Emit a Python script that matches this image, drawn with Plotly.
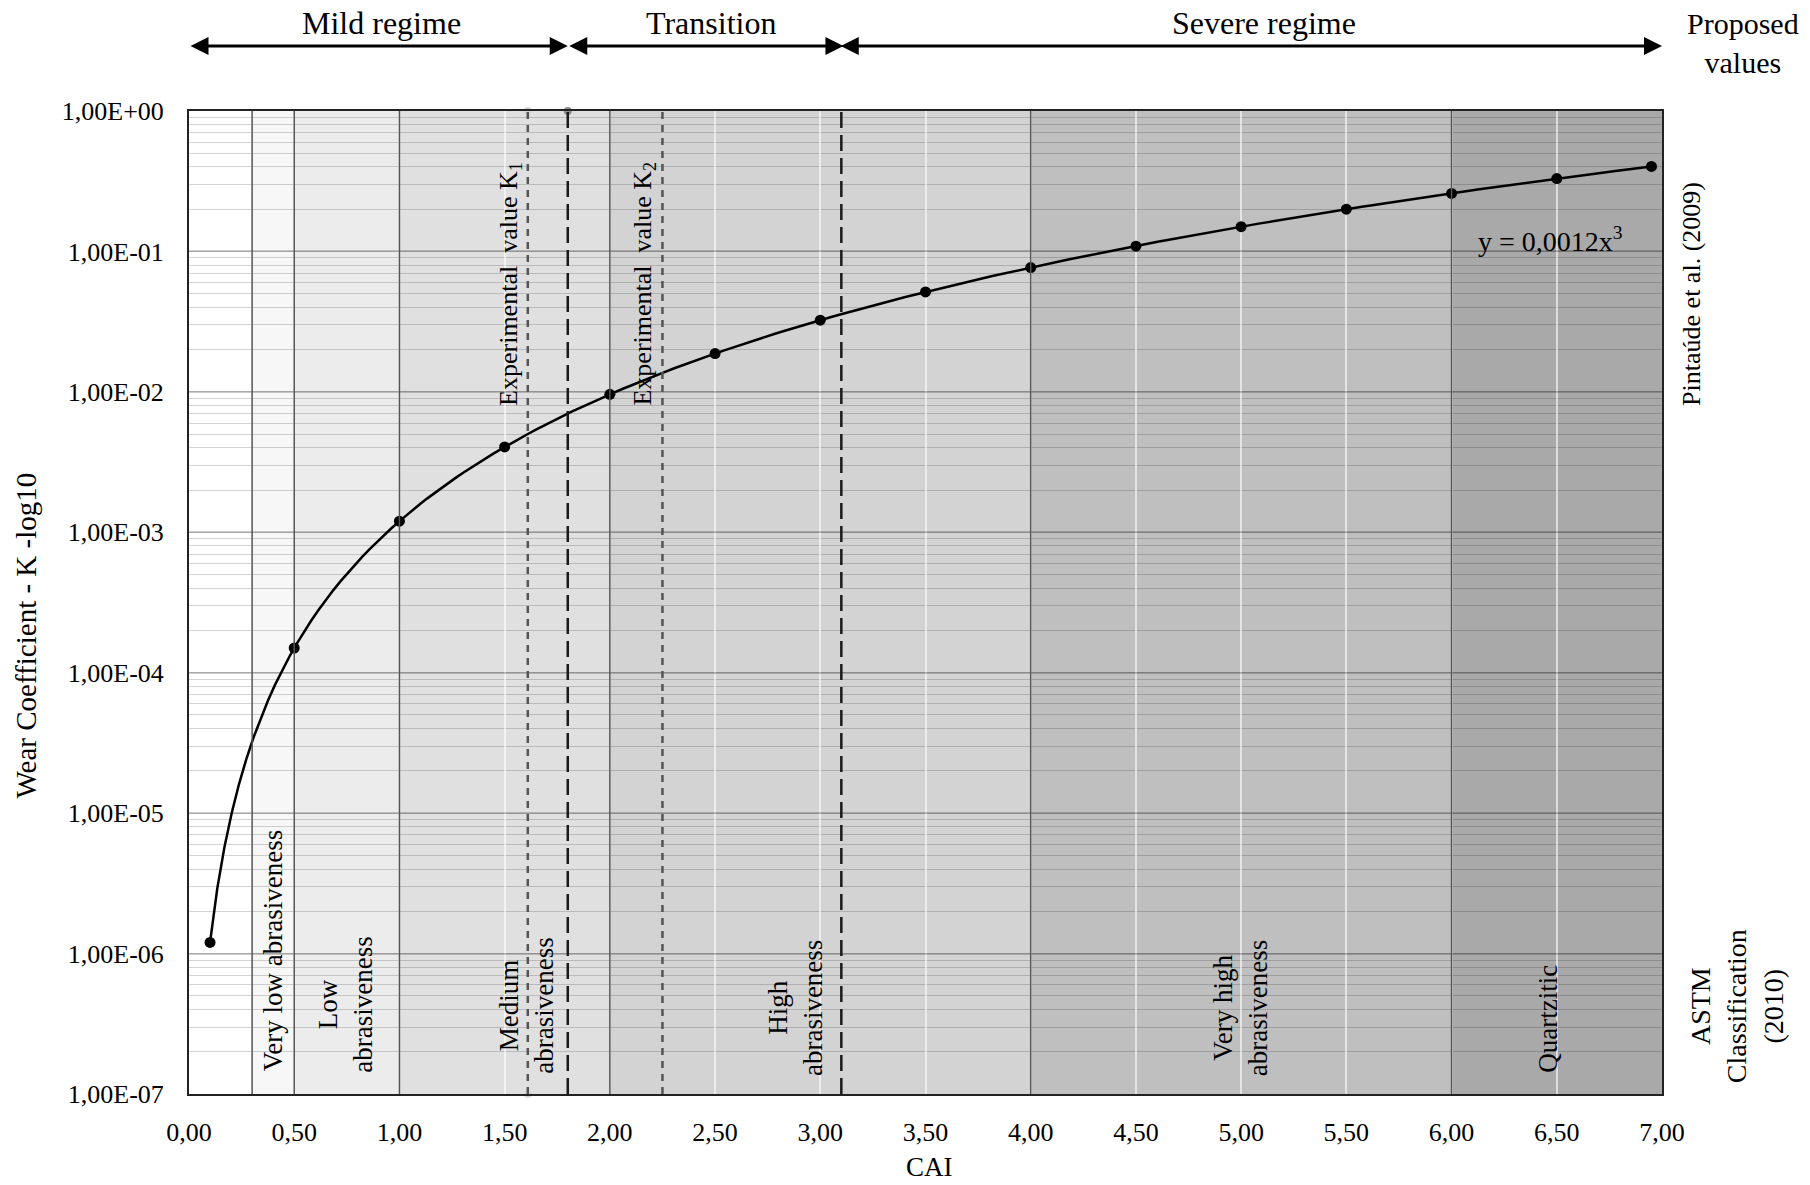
import plotly.graph_objects as go

# ---------------- data ----------------
CAI = [0.1, 0.5, 1.0, 1.5, 2.0, 2.5, 3.0, 3.5, 4.0, 4.5, 5.0, 5.5, 6.0, 6.5, 6.95]
K = [1.2e-6, 1.5e-4, 1.2e-3, 4.05e-3, 9.6e-3, 1.875e-2, 3.24e-2, 5.15e-2,
     7.68e-2, 0.109, 0.150, 0.200, 0.259, 0.330, 0.403]
TREND_COEF = 0.0012          # y = 0,0012 x^3 (shown on chart)
TREND_EXP = 3

X_TICKS = [0, 0.5, 1.0, 1.5, 2.0, 2.5, 3.0, 3.5, 4.0, 4.5, 5.0, 5.5, 6.0, 6.5, 7.0]
X_TICK_TEXT = ["0,00", "0,50", "1,00", "1,50", "2,00", "2,50", "3,00", "3,50",
               "4,00", "4,50", "5,00", "5,50", "6,00", "6,50", "7,00"]
Y_TICKS = [1e-7, 1e-6, 1e-5, 1e-4, 1e-3, 1e-2, 1e-1, 1e0]
Y_TICK_TEXT = ["1,00E-07", "1,00E-06", "1,00E-05", "1,00E-04",
               "1,00E-03", "1,00E-02", "1,00E-01", "1,00E+00"]

# ASTM classification bands
BAND_EDGES = [0.0, 0.3, 0.5, 1.0, 2.0, 4.0, 6.0, 7.0]
BAND_COLORS = ["#ffffff", "#f7f7f7", "#ececec", "#e0e0e0", "#d3d3d3", "#bfbfbf", "#a9a9a9"]
DIVIDERS = [0.3, 0.5, 1.0, 2.0, 4.0, 6.0]

ZONE_LABELS = ["Very low abrasiveness", "Low<br>abrasiveness", "Medium<br>abrasiveness",
               "High<br>abrasiveness", "Very high<br>abrasiveness", "Quartzitic"]
ZONE_LABEL_X = [0.40, 0.74, 1.60, 2.885, 5.0, 6.46]
ZONE_LABEL_Y = [0.1455, 0.0905, 0.0895, 0.0875, 0.0875, 0.077]

# Experimental values (short dash) and regime limits (long dash)
EXP_X = [1.61, 2.25]
EXP_LABELS = ["Experimental  value K<sub>1</sub>", "Experimental  value K<sub>2</sub>"]
EXP_LABEL_X = [1.525, 2.16]
REGIME_LIMITS = [1.8, 3.1]

REGIMES = ["Mild regime", "Transition", "Severe regime"]
REGIME_LABEL_X = [0.9125, 2.48, 5.11]
REGIME_START = [0.0, 1.80, 3.09]
REGIME_END = [1.80, 3.11, 7.0]

MARK_X = [1.61, 1.61, 1.8]
MARK_Y = [1.0, 1e-7, 1.0]
MARK_COLORS = ["#d9d9d9", "#d9d9d9", "#8c8c8c"]

FONT = "Liberation Serif"

# trend line evaluated from the displayed fit y = 0,0012 x^3
n = 200
trend_x = [CAI[0] + (CAI[-1] - CAI[0]) * i / (n - 1) for i in range(n)]
trend_y = [TREND_COEF * x ** TREND_EXP for x in trend_x]

fig = go.Figure()

fig.add_trace(go.Scatter(x=trend_x, y=trend_y, mode="lines",
                         line=dict(color="black", width=2.5), hoverinfo="skip",
                         showlegend=False))
fig.add_trace(go.Scatter(x=CAI, y=K, mode="markers",
                         marker=dict(color="black", size=11), showlegend=False))
fig.add_trace(go.Scatter(x=MARK_X, y=MARK_Y, mode="markers", cliponaxis=False,
                         marker=dict(color=MARK_COLORS, size=8), showlegend=False))

shapes = []
for i, c in enumerate(BAND_COLORS):
    shapes.append(dict(type="rect", xref="x", yref="paper", x0=BAND_EDGES[i], x1=BAND_EDGES[i + 1],
                       y0=0, y1=1, fillcolor=c, line=dict(width=0), layer="below"))
for xv in DIVIDERS:
    shapes.append(dict(type="line", xref="x", yref="paper", x0=xv, x1=xv, y0=0, y1=1,
                       line=dict(color="#555555", width=1.5), layer="above"))
for xv in EXP_X:
    shapes.append(dict(type="line", xref="x", yref="paper", x0=xv, x1=xv, y0=0, y1=1,
                       line=dict(color="#555555", width=2.5, dash="7px,6px"), layer="above"))
for xv in REGIME_LIMITS:
    shapes.append(dict(type="line", xref="x", yref="paper", x0=xv, x1=xv, y0=0, y1=1,
                       line=dict(color="#1a1a1a", width=2.5, dash="16px,7px"), layer="above"))

ann = []
for t, xv, yv in zip(ZONE_LABELS, ZONE_LABEL_X, ZONE_LABEL_Y):
    ann.append(dict(text=t, x=xv, y=yv, xref="x", yref="paper", textangle=-90,
                    showarrow=False, xanchor="center", yanchor="middle",
                    font=dict(family=FONT, size=27, color="black")))
for t, xv in zip(EXP_LABELS, EXP_LABEL_X):
    ann.append(dict(text=t, x=xv, y=0.824, xref="x", yref="paper", textangle=-90,
                    showarrow=False, xanchor="center", yanchor="middle",
                    font=dict(family=FONT, size=26, color="black")))
for t, xv in zip(REGIMES, REGIME_LABEL_X):
    ann.append(dict(text=t, x=xv, y=1.0895, xref="x", yref="paper", showarrow=False,
                    xanchor="center", yanchor="middle",
                    font=dict(family=FONT, size=32, color="black")))
for xs, xe in zip(REGIME_START, REGIME_END):
    ann.append(dict(text="", x=xe, y=1.066, xref="x", yref="paper",
                    ax=xs, ay=0, axref="x", ayref="pixel",
                    showarrow=True, arrowside="end+start", arrowhead=2, startarrowhead=2,
                    arrowsize=1.2, startarrowsize=1.2, arrowwidth=3, arrowcolor="black"))

ann.append(dict(text="Proposed<br>values", x=1.055, y=1.069, xref="paper", yref="paper",
                showarrow=False, xanchor="center", yanchor="middle",
                font=dict(family=FONT, size=30, color="black")))
ann.append(dict(text="y = 0,0012x<sup>3</sup>", x=6.47, y=0.869, xref="x", yref="paper",
                showarrow=False, xanchor="center", yanchor="middle",
                font=dict(family=FONT, size=28, color="black")))
ann.append(dict(text="Pintaúde et al. (2009)", x=1.0204, y=0.814, xref="paper", yref="paper",
                textangle=-90, showarrow=False, xanchor="center", yanchor="middle",
                font=dict(family=FONT, size=26, color="black")))
ann.append(dict(text="ASTM<br>Classification<br>(2010)", x=1.051, y=0.0895, xref="paper",
                yref="paper", textangle=-90, showarrow=False, xanchor="center", yanchor="middle",
                font=dict(family=FONT, size=28, color="black")))
ann.append(dict(text="CAI", x=3.52, y=-0.0745, xref="x", yref="paper", showarrow=False,
                xanchor="center", yanchor="middle", font=dict(family=FONT, size=27, color="black")))
ann.append(dict(text="Wear Coefficient - K -log10", x=-0.111, y=0.467, xref="paper", yref="paper",
                textangle=-90, showarrow=False, xanchor="center", yanchor="middle",
                font=dict(family=FONT, size=29, color="black")))

fig.update_layout(
    width=1810, height=1185,
    margin=dict(l=189, r=148, t=111, b=91),
    paper_bgcolor="white", plot_bgcolor="white",
    shapes=shapes, annotations=ann,
    font=dict(family=FONT, size=26, color="black"),
    showlegend=False,
)
fig.update_xaxes(range=[0, 7], tickmode="array", tickvals=X_TICKS, ticktext=X_TICK_TEXT,
                 showgrid=True, gridcolor="rgba(255,255,255,0.6)", gridwidth=1.5,
                 showline=True, mirror=True, linecolor="#222222", linewidth=2,
                 zeroline=False, ticks="", ticklabelstandoff=14,
                 tickfont=dict(family=FONT, size=26, color="black"))
fig.update_yaxes(type="log", range=[-7, 0], tickmode="array", tickvals=Y_TICKS,
                 ticktext=Y_TICK_TEXT, showgrid=True, gridcolor="rgba(0,0,0,0.2)", gridwidth=1.5,
                 minor=dict(dtick="D1", showgrid=True, gridcolor="rgba(0,0,0,0.17)", gridwidth=1.2),
                 showline=True, mirror=True, linecolor="#222222", linewidth=2,
                 zeroline=False, ticks="", ticklabelstandoff=18,
                 tickfont=dict(family=FONT, size=26, color="black"))

fig.write_html("out.html")
